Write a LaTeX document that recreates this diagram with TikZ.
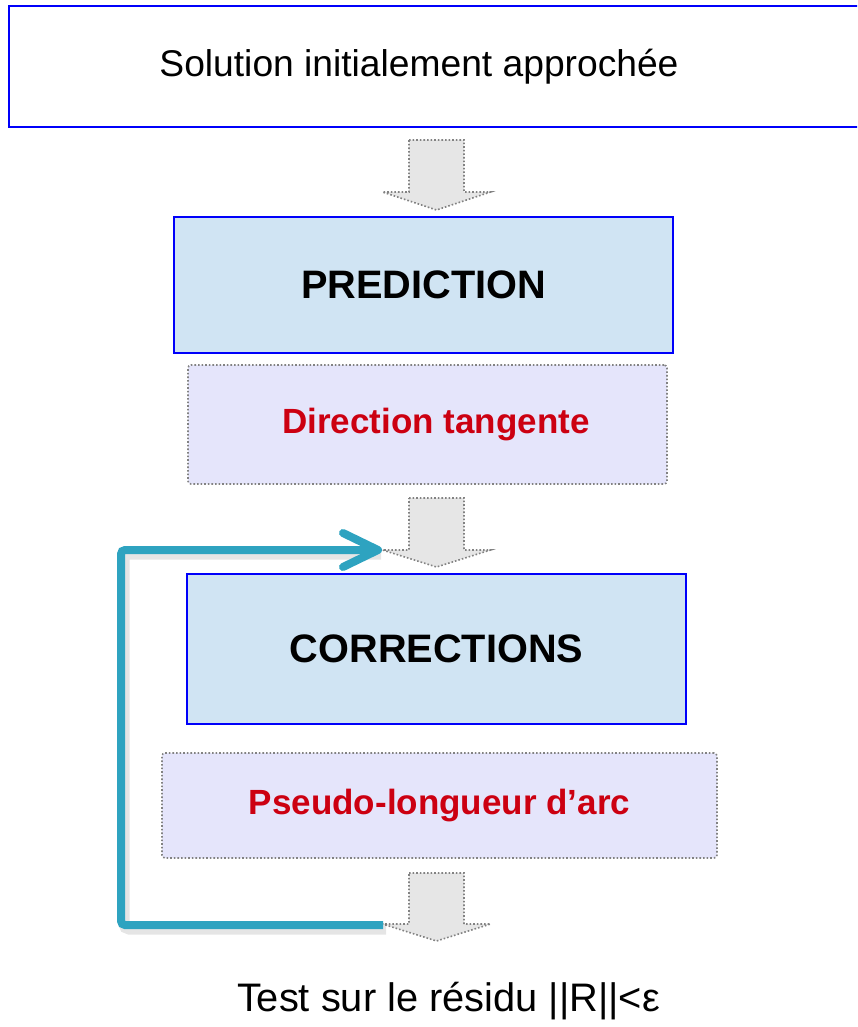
\documentclass[tikz,border=0pt]{standalone}
\usepackage{fontspec}
\setmainfont{Liberation Sans}
\definecolor{bblue}{RGB}{0,0,250}
\definecolor{pblue}{RGB}{208,228,243}
\definecolor{lav}{RGB}{229,229,251}
\definecolor{tred}{RGB}{204,0,17}
\definecolor{teal2}{RGB}{46,163,192}
\definecolor{agray}{RGB}{230,230,230}
\definecolor{dgray}{RGB}{130,130,130}
\tikzset{
  mainbox/.style={draw=bblue, line width=2.2pt, fill=pblue, inner sep=0pt,
    font=\bfseries\fontsize{39.7}{44}\selectfont},
  subbox/.style={draw=dgray, line width=1.6pt, dotted, fill=lav, rounded corners=3pt, inner sep=0pt,
    text=tred, font=\bfseries\fontsize{35}{40}\selectfont},
  garrow/.style={draw=dgray, fill=agray, line width=1.6pt, dotted},
  loopline/.style={draw=teal2, line width=8pt, rounded corners=4pt},
  loopshadow/.style={draw=black, opacity=0.10, line width=11pt, rounded corners=5pt},
}
\newcommand\blockarr[4]{% xc, ytop, ywing, ytip
  \path[garrow] (#1-27.5,#2) -- (#1+27.5,#2) -- (#1+27.5,#3) -- (#1+54,#3) -- (#1,#4)
    -- (#1-54,#3) -- (#1-27.5,#3) -- cycle;}
\begin{document}
\begin{tikzpicture}[x=1pt,y=-1pt]
\useasboundingbox (0,0) rectangle (857,1027);
\clip (0,0) rectangle (857,1027);
% top box
\node[draw=bblue, line width=1.8pt, fill=white, minimum width=870pt, minimum height=121pt,
  anchor=north west, inner sep=0pt] (init) at (8,5) {};
\node[font=\fontsize{37.2}{42}\selectfont] (initt) at (419,67) {Solution initialement approchée};
% arrow 1
\blockarr{436.5}{140}{192}{210}
% prediction
\node[mainbox, minimum width=499pt, minimum height=136pt] (pred) at (423.5,285) {PREDICTION};
\node[subbox, minimum width=479pt, minimum height=119pt] (dir) at (427.5,424.5) {\hspace*{17pt}Direction tangente};
% arrow 2
\blockarr{436.5}{498}{550}{567}
% corrections
\node[mainbox, minimum width=499pt, minimum height=150pt] (corr) at (436.5,649) {CORRECTIONS};
\node[subbox, minimum width=555pt, minimum height=105pt] (pseudo) at (439.5,805.5) {Pseudo-longueur d’arc};
% arrow 3
\blockarr{436.5}{873}{924}{941}
% test
\node[font=\fontsize{39.8}{44}\selectfont] (test) at (448.5,1001) {Test sur le résidu ||R||<ε};
% loop
\coordinate (lstart) at (383,925);
\coordinate (lend) at (378,550);
\coordinate (lcorner) at (121,925);
\draw[loopshadow] ([shift={(3,4)}]lstart) -- ([shift={(3,4)}]lcorner) |- ([shift={(3,4)}]lend);
\draw[loopline] (lstart) -- (lcorner) |- (lend);
\draw[draw=teal2, line width=8pt, line cap=round, line join=round]
  ([shift={(-35,-17)}]lend) -- (lend) -- ([shift={(-35,17)}]lend);
\end{tikzpicture}
\end{document}
